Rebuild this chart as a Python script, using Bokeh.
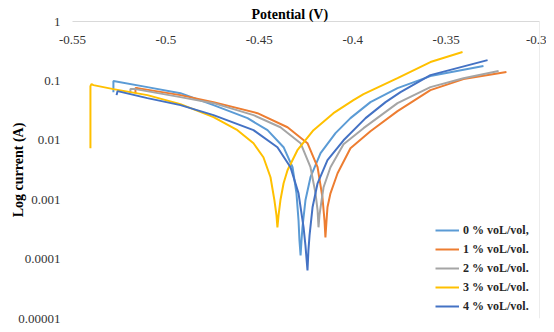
import math
from bokeh.plotting import figure
from bokeh.models import (Range1d, FixedTicker, CustomJSTickFormatter, Span,
                          Legend, LegendItem)
from bokeh.embed import file_html
from bokeh.resources import INLINE

# ---------------- data ----------------
x_ticks = [-0.55, -0.5, -0.45, -0.4, -0.35, -0.3]
y_ticks = [0.00001, 0.0001, 0.001, 0.01, 0.1, 1]

series_labels = ["0 % voL/vol,", "1 % voL/vol.", "2 % voL/vol.", "3 % voL/vol.", "4 % voL/vol."]
series_colors = ["#5B9BD5", "#ED7D31", "#A5A5A5", "#FFC000", "#4472C4"]

# 0 % vol/vol
pot_0 = [-0.5281, -0.5281, -0.5099, -0.4922, -0.4745, -0.4563, -0.4456, -0.4370, -0.4322,
         -0.4301, -0.4290, -0.4285, -0.4279, -0.4274, -0.4269, -0.4253, -0.4226, -0.4172,
         -0.4092, -0.4012, -0.3905, -0.3760, -0.3584, -0.3300]
cur_0 = [0.0647, 0.0993, 0.0786, 0.0622, 0.0391, 0.0236, 0.0148, 0.00765, 0.00352,
         0.00128, 0.000450, 0.000207, 0.000115, 0.000207, 0.000343, 0.000977, 0.00239, 0.00606,
         0.0132, 0.0236, 0.0439, 0.0756, 0.1205, 0.178]

# 1 % vol/vol
pot_1 = [-0.5163, -0.5163, -0.5152, -0.4922, -0.4745, -0.4510, -0.4349, -0.4242, -0.4188,
         -0.4162, -0.4151, -0.4146, -0.4140, -0.4135, -0.4119, -0.4081, -0.4012, -0.3905,
         -0.3760, -0.3584, -0.3407, -0.3177]
cur_1 = [0.0622, 0.0756, 0.0756, 0.0576, 0.0439, 0.0286, 0.0166, 0.00893, 0.00352,
         0.00110, 0.000450, 0.000232, 0.000450, 0.000745, 0.00128, 0.00279, 0.00736, 0.01424,
         0.0310, 0.0700, 0.1072, 0.141]

# 2 % vol/vol
pot_2 = [-0.5190, -0.5190, -0.5163, -0.4922, -0.4745, -0.4531, -0.4387, -0.4279, -0.4226,
         -0.4199, -0.4188, -0.4183, -0.4178, -0.4172, -0.4156, -0.4119, -0.4049, -0.3942,
         -0.3760, -0.3584, -0.3407, -0.3219]
cur_2 = [0.0622, 0.0727, 0.0727, 0.0533, 0.0422, 0.0265, 0.0166, 0.00893, 0.00352,
         0.00128, 0.000663, 0.000343, 0.000546, 0.000745, 0.00162, 0.00352, 0.00859, 0.0160,
         0.0422, 0.0786, 0.111, 0.1463]

# 3 % vol/vol
pot_3 = [-0.5404, -0.5404, -0.5398, -0.5388, -0.5281, -0.5099, -0.4922, -0.4745, -0.4617,
         -0.4531, -0.4478, -0.4440, -0.4419, -0.4408, -0.4403, -0.4397, -0.4387, -0.4370,
         -0.4349, -0.4296, -0.4210, -0.4103, -0.3996, -0.3942, -0.3760, -0.3584, -0.3412]
cur_3 = [0.00736, 0.0817, 0.0883, 0.0849, 0.0727, 0.0576, 0.0406, 0.0245, 0.0148,
         0.00893, 0.00519, 0.00239, 0.000977, 0.000546, 0.000343, 0.000546, 0.000977, 0.00189,
         0.00313, 0.00681, 0.0148, 0.0286, 0.0475, 0.0599, 0.111, 0.2075, 0.306]

# 4 % vol/vol
pot_4 = [-0.5264, -0.5259, -0.5099, -0.4922, -0.4745, -0.4531, -0.4403, -0.4333, -0.4290,
         -0.4263, -0.4253, -0.4242, -0.4237, -0.4231, -0.4215, -0.4188, -0.4135, -0.4049,
         -0.3931, -0.3824, -0.3744, -0.3584, -0.3278]
cur_4 = [0.0576, 0.0673, 0.0513, 0.0391, 0.0265, 0.0148, 0.00765, 0.00352, 0.00128,
         0.000343, 0.000170, 0.0000644, 0.000140, 0.000251, 0.000745, 0.00189, 0.00462, 0.0100,
         0.0236, 0.0439, 0.0647, 0.125, 0.224]

potentials = [pot_0, pot_1, pot_2, pot_3, pot_4]
currents = [cur_0, cur_1, cur_2, cur_3, cur_4]

# ---------------- figure ----------------
SERIF = "Liberation Serif"

p = figure(width=546, height=324,
           x_range=Range1d(-0.55, -0.3), y_range=Range1d(0.00001, 1),
           y_axis_type="log", x_axis_location="above",
           output_backend="svg", toolbar_location=None,
           min_border_left=72, min_border_right=7, min_border_top=21, min_border_bottom=6)

p.outline_line_color = None
p.xgrid.visible = False
p.ygrid.visible = False
p.background_fill_color = "white"
p.border_fill_color = "white"

# chart title used as the x-axis title (sits above the top axis line)
p.title.text = "Potential (V)"
p.title.align = "left"
p.title.offset = 179
p.title.standoff = 0
p.title.text_font = SERIF
p.title.text_font_size = "14px"
p.title.text_font_style = "bold"
p.title.text_color = "#000000"

# top x axis (labels sit below the axis line, inside the plot)
xa = p.xaxis[0]
xa.ticker = FixedTicker(ticks=x_ticks)
xa.formatter = CustomJSTickFormatter(code="return (Math.round(tick*100)/100).toString();")
xa.major_tick_line_color = None
xa.minor_tick_line_color = None
xa.major_tick_out = 0
xa.major_tick_in = 0
xa.minor_tick_out = 0
xa.axis_line_color = "#D9D9D9"
xa.axis_line_width = 1
xa.major_label_standoff = -22
xa.major_label_text_font = SERIF
xa.major_label_text_font_size = "13px"
xa.major_label_text_color = "#333333"

ya = p.yaxis[0]
ya.ticker = FixedTicker(ticks=y_ticks)
ya.formatter = CustomJSTickFormatter(
    code="if (tick >= 1) { return '1'; } var n = Math.round(-Math.log10(tick)); return tick.toFixed(n);")
ya.major_tick_line_color = None
ya.minor_tick_line_color = None
ya.major_tick_out = 0
ya.major_tick_in = 0
ya.minor_tick_out = 0
ya.axis_line_color = None
ya.major_label_standoff = 12
ya.major_label_text_font = SERIF
ya.major_label_text_font_size = "13px"
ya.major_label_text_color = "#333333"
ya.axis_label = "Log current (A)"
ya.axis_label_standoff = -11
ya.axis_label_text_font = SERIF
ya.axis_label_text_font_size = "14px"
ya.axis_label_text_font_style = "bold"
ya.axis_label_text_color = "#000000"

# vertical axis line on the right (crossing at -0.3)
p.add_layout(Span(location=-0.3, dimension="height", line_color="#D9D9D9", line_width=1))

renderers = []
for pot, cur, col in zip(potentials, currents, series_colors):
    r = p.line(pot, cur, line_color=col, line_width=2)
    renderers.append(r)

legend = Legend(items=[LegendItem(label=lab, renderers=[r]) for lab, r in zip(series_labels, renderers)],
                location=(363, 4), orientation="vertical",
                glyph_width=24, glyph_height=16, label_height=16, spacing=3,
                label_standoff=4, padding=0, margin=0,
                border_line_color=None, background_fill_alpha=0,
                label_text_font=SERIF, label_text_font_size="12px",
                label_text_font_style="bold", label_text_color="#262626")
p.add_layout(legend)

open("out.html", "w").write(file_html(p, INLINE))
